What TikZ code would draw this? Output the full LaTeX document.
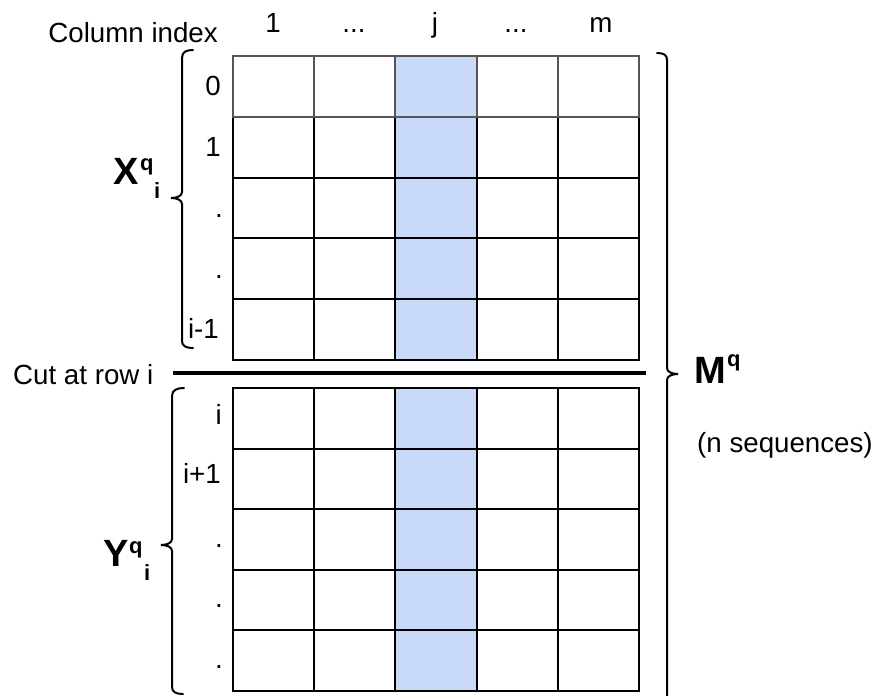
\documentclass[tikz,border=0pt]{standalone}
\usepackage{fontspec}
\setmainfont{Liberation Sans}
\definecolor{jblue}{HTML}{C9DAF8}
\definecolor{rowgray}{RGB}{85,85,85}
\begin{document}
\begin{tikzpicture}[x=1pt,y=-1pt,
  cell/.style={draw=black,line width=2pt,rectangle,minimum width=81.2pt,minimum height=#1,inner sep=0pt,anchor=north west},
  cell/.default=60.8pt,
  reg/.style={font=\fontsize{27.7}{30}\selectfont,inner sep=0pt},
  rowlab/.style={reg,anchor=base east},
  big/.style={font=\fontsize{38}{42}\selectfont\bfseries,inner sep=0pt,anchor=base west},
  small/.style={font=\fontsize{22}{25}\selectfont\bfseries,inner sep=0pt,anchor=base west},
  bracel/.style={line width=2pt,line cap=round}]
\useasboundingbox (0,0) rectangle (879,696);

% top table rows 1..4
\foreach \r in {1,...,4}{
  \foreach \c in {1,...,5}{
    \pgfmathsetmacro{\xx}{232+81.2*(\c-1)}
    \pgfmathsetmacro{\yy}{55+60.8*\r}
    \ifnum\c=3
      \node[cell,fill=jblue] (t-\r-\c) at (\xx,\yy) {};
    \else
      \node[cell] (t-\r-\c) at (\xx,\yy) {};
    \fi
  }
}
% top table row 0 (gray)
\foreach \c in {1,...,5}{
  \pgfmathsetmacro{\xx}{232+81.2*(\c-1)}
  \ifnum\c=3
    \node[cell,draw=rowgray,fill=jblue] (t-0-\c) at (\xx,55) {};
  \else
    \node[cell,draw=rowgray] (t-0-\c) at (\xx,55) {};
  \fi
}
% bottom table
\foreach \r in {0,...,4}{
  \foreach \c in {1,...,5}{
    \pgfmathsetmacro{\xx}{232+81.2*(\c-1)}
    \pgfmathsetmacro{\yy}{387+60.6*\r}
    \ifnum\c=3
      \node[cell=60.6pt,fill=jblue] (b-\r-\c) at (\xx,\yy) {};
    \else
      \node[cell=60.6pt] (b-\r-\c) at (\xx,\yy) {};
    \fi
  }
}

% column labels
\node[reg,anchor=base east] (colidx) at (218,42) {Column index};
\node[reg,anchor=base] (c1) at (273,32) {1};
\node[reg,anchor=base] (c2) at (354,32) {...};
\node[reg,anchor=base] (c3) at (435,32) {j};
\node[reg,anchor=base] (c4) at (516,32) {...};
\node[reg,anchor=base] (c5) at (601,32) {m};

% row labels top
\node[rowlab] (r0) at (221,95) {0};
\node[rowlab] (r1) at (221,156) {1};
\node[rowlab] (r2) at (223,217) {.};
\node[rowlab] (r3) at (223,278) {.};
\node[rowlab] (r4) at (219,338) {i-1};
% row labels bottom
\node[rowlab] (s0) at (222,424) {i};
\node[rowlab] (s1) at (221,483) {i+1};
\node[rowlab] (s2) at (223,547) {.};
\node[rowlab] (s3) at (223,607) {.};
\node[rowlab] (s4) at (223,668) {.};

% cut
\node[reg,anchor=base west] (cut) at (13,384) {Cut at row i};
\coordinate (cutA) at (173,373);
\coordinate (cutB) at (646,373);
\draw[line width=4.5pt] (cutA) -- (cutB);

% braces
\draw[bracel] (193,50) .. controls (186,50) and (182,52) .. (182,58) -- (182,192)
  .. controls (182,196) and (177,198) .. (171,198)
  .. controls (177,198) and (182,200) .. (182,204) -- (182,341)
  .. controls (182,346) and (186,348) .. (193,348);
\draw[bracel] (184,388) .. controls (177,388) and (172,390) .. (172,396) -- (172,539)
  .. controls (172,543) and (167,545) .. (161,545)
  .. controls (167,545) and (172,547) .. (172,551) -- (172,687)
  .. controls (172,692) and (176,694) .. (183,694);
\draw[bracel] (657,53) .. controls (664,53) and (667,55) .. (667,60) -- (667,368)
  .. controls (667,372) and (672,374) .. (678,374)
  .. controls (672,374) and (667,376) .. (667,380) -- (667,700);

% labels
\node[big] (X) at (113,184) {X};
\node[small] (Xq) at (140,170) {q};
\node[small] (Xi) at (154,198) {i};
\node[big] (Y) at (103,566) {Y};
\node[small] (Yq) at (129,553) {q};
\node[small] (Yi) at (144,580) {i};
\node[big] (M) at (694,383) {M};
\node[small] (Mq) at (727,366) {q};
\node[reg,anchor=base west] (nseq) at (697,452) {(n sequences)};
\end{tikzpicture}
\end{document}
